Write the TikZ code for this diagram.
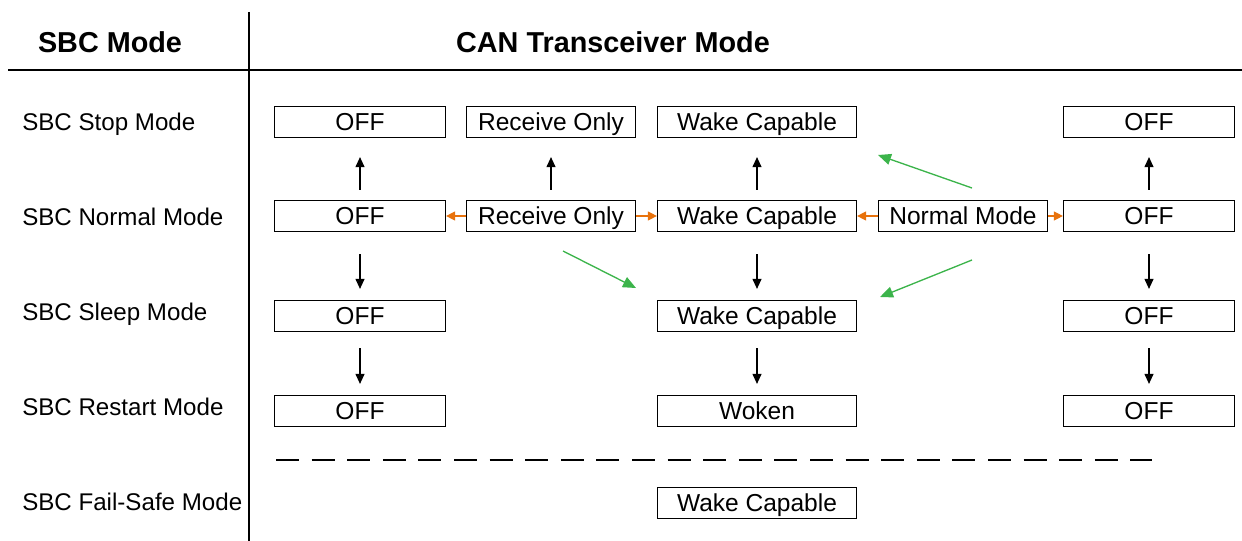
\documentclass[tikz,border=0pt]{standalone}
\usepackage{fontspec}
\setmainfont{Liberation Sans}
\usetikzlibrary{arrows.meta}
\definecolor{orng}{RGB}{232,114,12}
\definecolor{grn}{RGB}{60,180,75}
\begin{document}
\begin{tikzpicture}[x=0.75pt,y=-0.75pt,
  box/.style={draw=black,line width=0.9pt,inner sep=0pt,minimum height=31*0.75pt,text height=13.1pt,text depth=0pt,font=\fontsize{18.4}{20}\selectfont},
  wA/.style={box,minimum width=171*0.75pt},
  wB/.style={box,minimum width=169*0.75pt},
  wC/.style={box,minimum width=199*0.75pt},
  lbl/.style={anchor=west,inner sep=0pt,text height=13pt,text depth=0pt,font=\fontsize{18.1}{20}\selectfont},
  hdr/.style={inner sep=0pt,font=\fontsize{21.6}{24}\selectfont\bfseries},
  blk/.style={-{Triangle[length=10*0.75pt,width=9*0.75pt]},line width=0.8pt},
  org/.style={-{Triangle[length=9*0.75pt,width=9*0.75pt]},line width=0.9pt,draw=orng},
  gr/.style={-{Triangle[length=13*0.75pt,width=11*0.75pt]},line width=1pt,draw=grn}]
\useasboundingbox (0,0) rectangle (1242,541);
% frame lines
\coordinate (vt) at (249,12); \coordinate (vb) at (249,541);
\coordinate (hl) at (8,70); \coordinate (hr) at (1242,70);
\draw[line width=0.9pt] (vt) -- (vb);
\draw[line width=0.9pt] (hl) -- (hr);
\node[hdr] (h1) at (110,42) {SBC Mode};
\node[hdr] (h2) at (613,42) {CAN Transceiver Mode};
% row labels
\node[lbl] (l1) at (22,122) {SBC Stop Mode};
\node[lbl] (l2) at (22,217) {SBC Normal Mode};
\node[lbl] (l3) at (22,312) {SBC Sleep Mode};
\node[lbl] (l4) at (22,407) {SBC Restart Mode};
\node[lbl] (l5) at (22,502) {SBC Fail-Safe Mode};
% row 1
\node[wA] (a1) at (360,122) {OFF};
\node[wB] (b1) at (551,122) {Receive Only};
\node[wC] (c1) at (757,122) {Wake Capable};
\node[wA] (e1) at (1149,122) {OFF};
% row 2
\node[wA] (a2) at (360,216) {OFF};
\node[wB] (b2) at (551,216) {Receive Only};
\node[wC] (c2) at (757,216) {Wake Capable};
\node[wB] (d2) at (963,216) {Normal Mode};
\node[wA] (e2) at (1149,216) {OFF};
% row 3
\node[wA] (a3) at (360,316) {OFF};
\node[wC] (c3) at (757,316) {Wake Capable};
\node[wA] (e3) at (1149,316) {OFF};
% row 4
\node[wA] (a4) at (360,411) {OFF};
\node[wC] (c4) at (757,411) {Woken};
\node[wA] (e4) at (1149,411) {OFF};
% row 5
\node[wC] (c5) at (757,503) {Wake Capable};
% vertical arrows
\foreach \n in {a,b,c,e}{
  \draw[blk] ([yshift=10*0.75pt]\n2.north) -- ([yshift=-19*0.75pt]\n1.south);
}
\foreach \n in {a,c,e}{
  \draw[blk] ([yshift=-22*0.75pt]\n2.south) -- ([yshift=11*0.75pt]\n3.north);
  \draw[blk] ([yshift=-16*0.75pt]\n3.south) -- ([yshift=11*0.75pt]\n4.north);
}
% orange arrows
\draw[org] (b2.west) -- (a2.east);
\draw[org] (b2.east) -- (c2.west);
\draw[org] (d2.west) -- (c2.east);
\draw[org] (d2.east) -- (e2.west);
% green arrows
\coordinate (g1s) at (972,188); \coordinate (g1e) at (878,155);
\coordinate (g2s) at (972,260); \coordinate (g2e) at (880,297);
\coordinate (g3s) at (563,251); \coordinate (g3e) at (636,288);
\draw[gr] (g1s) -- (g1e);
\draw[gr] (g2s) -- (g2e);
\draw[gr] (g3s) -- (g3e);
% dashed separator
\coordinate (ds) at (276,460); \coordinate (de) at (1152,460);
\draw[line width=0.9pt,dash pattern=on 23*0.75pt off 12.6*0.75pt] (ds) -- (de);
\end{tikzpicture}
\end{document}
